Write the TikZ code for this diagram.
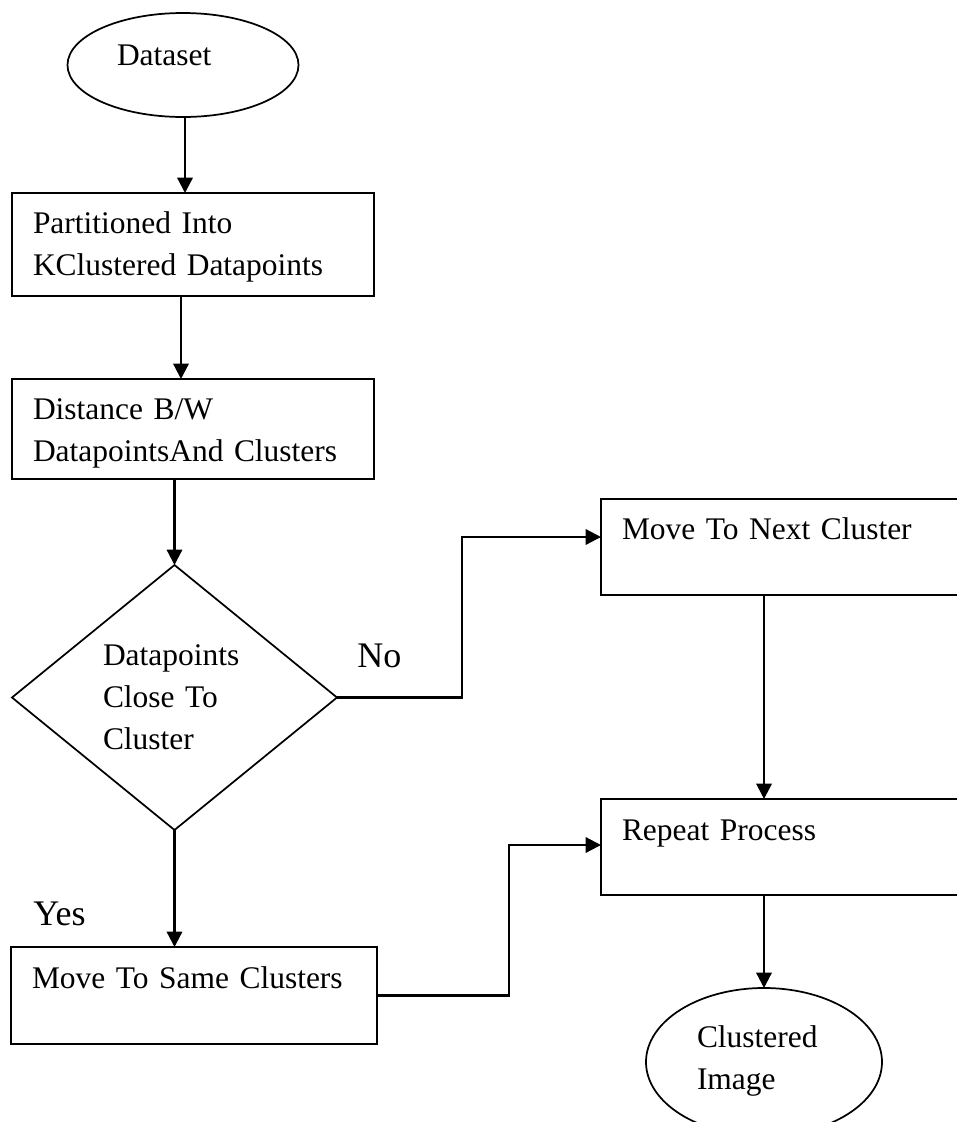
\documentclass[tikz,border=0pt]{standalone}
\usepackage{fontspec}
\setmainfont{Liberation Serif}
\usetikzlibrary{arrows.meta,shapes.geometric,calc}
\begin{document}
\begin{tikzpicture}[x=0.75pt,y=-0.75pt,
  every node/.style={font=\fontsize{23.6pt}{31.5pt}\selectfont, text=black},
  box/.style={draw, line width=1.4pt, rectangle, inner ysep=0pt, inner xsep=15.75pt, align=left, outer sep=0pt},
  oval/.style={draw, line width=1.3pt, ellipse, inner sep=0pt, align=left, outer sep=0pt},
  decision/.style={draw, line width=1.3pt, diamond, inner sep=0pt, align=left, outer sep=0pt},
  lbl/.style={font=\fontsize{27pt}{32pt}\selectfont, anchor=base west, inner sep=0pt},
  arr/.style={line width=1.7pt, -{Triangle[length=11.5pt,width=11.5pt]}},
  ln/.style={line width=1.7pt}]
\useasboundingbox (0,0) rectangle (957,1122);
\clip (0,0) rectangle (957,1122);

\node[oval, minimum width=173.25pt, minimum height=78pt, text width=99pt, text height=20pt, text depth=20pt] (data) at (183,65) {Dataset};

\node[box, minimum width=271.5pt, text width=240pt, text height=30pt, text depth=47.25pt] (part) at (193,244.5) {Partitioned Into\\KClustered Datapoints};

\node[box, minimum width=271.5pt, text width=240pt, text height=30pt, text depth=45pt] (dist) at (193,429) {Distance B/W\\DatapointsAnd Clusters};

\node[decision, minimum width=243.75pt, minimum height=198.75pt, aspect=1.226, text width=107.25pt] (dec) at (174.5,697.5) {Datapoints\\Close To\\Cluster};

\node[box, text width=242.25pt, text height=30pt, text depth=42pt] (next) at (783.5,547) {Move To Next Cluster};

\node[box, text width=242.25pt, text height=30.75pt, text depth=41.25pt] (rep) at (783.5,847) {Repeat Process};

\node[box, text width=243pt, text height=30.75pt, text depth=42pt] (same) at (194,995.5) {Move To Same Clusters};

\node[oval, minimum width=177pt, minimum height=111pt, text width=100.5pt, text height=22.5pt, text depth=45pt] (clus) at (764,1062) {Clustered\\Image};

\node[lbl] (no) at (357,667) {No};
\node[lbl] (yes) at (33,925) {Yes};

% connectors
\draw[arr] ([xshift=1.5pt]data.south) -- ([xshift=1.5pt]data.south |- part.north);
\draw[arr] ([xshift=-9pt]part.south) -- ([xshift=-9pt]dist.north);
\draw[arr] (dist.south -| dec.north) -- (dec.north);
\draw[arr] (dec.east) -- ++(125,0) |- ([yshift=7.5pt]next.west);
\draw[arr] ([xshift=-14.6pt]next.south) -- ([xshift=-14.6pt]rep.north);
\draw[arr] (dec.south) -- (dec.south |- same.north);
\draw[arr] (same.east) -- ++(132,0) |- ([yshift=1.5pt]rep.west);
\draw[arr] (rep.south -| clus.north) -- (clus.north);
\end{tikzpicture}
\end{document}
